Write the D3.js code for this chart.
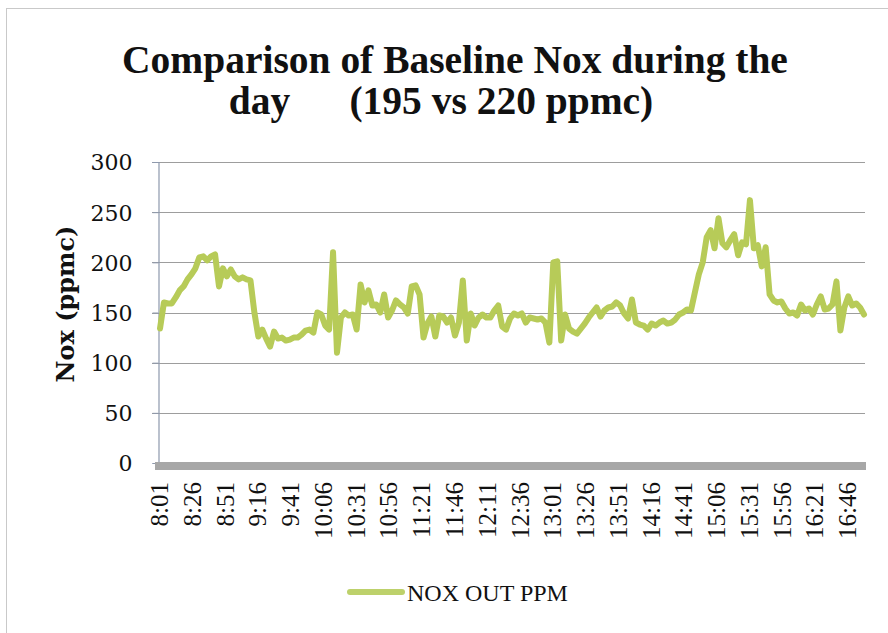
<!DOCTYPE html>
<html>
<head>
<meta charset="utf-8">
<script src="https://cdn.jsdelivr.net/npm/d3@7"></script>
<style>
	body { margin: 0; background: #fff; }
	svg { display: block; }
	.title { font-family: 'Liberation Serif', serif; font-weight: bold; fill: #111; }
	.axis-title { font-family: 'DejaVu Serif', serif; font-weight: bold; fill: #111; }
	.tick-text { font-family: 'DejaVu Serif', serif; fill: #111; }
	.x-text { font-family: 'Liberation Serif', serif; fill: #111; }
</style>
</head>
<body>
<div id="chart"></div>
<script>

// category labels shown on the x axis (one every 25 readings)
var tickLabels = ['8:01', '8:26', '8:51', '9:16', '9:41', '10:06', '10:31', '10:56', '11:21', '11:46',
	'12:11', '12:36', '13:01', '13:26', '13:51', '14:16', '14:41', '15:06', '15:31', '15:56', '16:21', '16:46'];
var labelEvery = 25;

// NOX OUT PPM, one value every 3 minutes from 8:01
var readingStep = 3;
var noxValues = [
	134, 160, 159, 159, 165, 172, 176, 183, 188, 194,
	205, 206, 202, 206, 208, 176, 194, 186, 193, 186,
	183, 185, 183, 182, 150, 126, 133, 124, 116, 131,
	124, 125, 122, 123, 125, 125, 128, 132, 133, 130,
	150, 148, 137, 133, 210, 110, 145, 150, 147, 148,
	133, 178, 160, 172, 157, 158, 150, 168, 145, 152,
	162, 158, 155, 149, 176, 177, 168, 125, 139, 146,
	126, 147, 146, 140, 145, 127, 140, 182, 122, 149,
	137, 145, 148, 145, 145, 152, 157, 136, 133, 144,
	149, 147, 149, 140, 145, 144, 143, 144, 140, 120,
	200, 201, 122, 148, 134, 131, 129, 134, 139, 145,
	150, 155, 146, 152, 155, 156, 160, 157, 149, 144,
	163, 140, 138, 137, 133, 139, 137, 140, 142, 139,
	140, 143, 148, 150, 153, 152, 170, 188, 200, 225,
	232, 214, 244, 219, 215, 222, 228, 207, 220, 218,
	262, 214, 217, 196, 215, 168, 162, 160, 161, 154,
	149, 150, 147, 158, 152, 154, 148, 158, 166, 153,
	154, 158, 181, 132, 155, 166, 157, 159, 155, 148
];
var seriesName = 'NOX OUT PPM';
var yTicks = [0, 50, 100, 150, 200, 250, 300];

var dim = { w: 888, h: 633 };
var plot = { left: 158, right: 865, top: 162, bottom: 463 };
var lineColor = '#b7cb58';

var svg = d3.select('#chart').append('svg')
	.attr('width', dim.w)
	.attr('height', dim.h);

// chart frame
svg.append('rect')
	.attr('x', 6.5).attr('y', 8.5)
	.attr('width', dim.w + 10).attr('height', dim.h + 10)
	.attr('fill', 'none')
	.attr('stroke', '#c9c9c9');

var x = d3.scaleLinear()
	.domain([0, (noxValues.length - 1) * readingStep])
	.range([160, 864]);
var y = d3.scaleLinear()
	.domain([0, 300])
	.range([plot.bottom, plot.top]);

// title, sized to the width of the first line
var title1 = svg.append('text')
	.attr('class', 'title')
	.attr('x', 455).attr('y', 73)
	.attr('text-anchor', 'middle')
	.style('font-size', '30px')
	.text('Comparison of Baseline Nox during the');
var fs = 30 * 666 / title1.node().getComputedTextLength();
title1.style('font-size', fs + 'px');
svg.append('text')
	.attr('class', 'title')
	.attr('x', 441).attr('y', 114)
	.attr('text-anchor', 'middle')
	.style('font-size', fs + 'px')
	.style('white-space', 'pre')
	.text('day      (195 vs 220 ppmc)');

// gridlines + left tick marks
svg.append('g').selectAll('line')
	.data(yTicks.filter(function (d) { return d > 0; }))
	.enter().append('line')
	.attr('x1', 152).attr('x2', plot.right)
	.attr('y1', function (d) { return Math.round(y(d)) + 0.5; })
	.attr('y2', function (d) { return Math.round(y(d)) + 0.5; })
	.attr('stroke', '#9d9d9d')
	.attr('stroke-width', 1.2);

// y axis
var yAxis = d3.axisLeft(y).tickValues(yTicks).tickSize(6).tickPadding(20);
var gy = svg.append('g')
	.attr('transform', 'translate(' + (plot.left + 0.5) + ',0)')
	.call(yAxis);
gy.select('.domain').attr('stroke', '#8e99ad').attr('stroke-width', 1.2);
gy.selectAll('.tick line').attr('stroke', '#8e99ad');
gy.selectAll('.tick text')
	.attr('class', 'tick-text')
	.style('font-size', '22px')
	.attr('dy', '0.36em');
gy.attr('font-family', null).attr('font-size', null);

svg.append('text')
	.attr('class', 'axis-title')
	.attr('transform', 'translate(74,304) rotate(-90)')
	.attr('text-anchor', 'middle')
	.style('font-size', '24px')
	.text('Nox (ppmc)');

// x axis floor
svg.append('rect')
	.attr('x', 155).attr('y', plot.bottom - 1)
	.attr('width', plot.right - 155 + 1).attr('height', 8)
	.attr('fill', '#a7a7a7');

var gx = svg.append('g')
	.attr('transform', 'translate(0,' + (plot.bottom + 7) + ')');
gx.selectAll('text')
	.data(tickLabels)
	.enter().append('text')
	.attr('class', 'x-text')
	.style('font-size', '25px')
	.attr('text-anchor', 'end')
	.attr('transform', function (d, i) {
		return 'translate(' + (x(i * labelEvery) + 8) + ',12) rotate(-90)';
	})
	.text(function (d) { return d; });

// the series
var line = d3.line()
	.x(function (d, i) { return x(i * readingStep); })
	.y(function (d) { return y(d); });
svg.append('path')
	.datum(noxValues)
	.attr('d', line)
	.attr('fill', 'none')
	.attr('stroke', lineColor)
	.attr('stroke-width', 6)
	.attr('stroke-linejoin', 'round')
	.attr('stroke-linecap', 'round');

// legend
var legend = svg.append('g').attr('transform', 'translate(348,592)');
legend.append('line')
	.attr('x1', 2).attr('x2', 54)
	.attr('stroke', '#bdd16b')
	.attr('stroke-width', 6)
	.attr('stroke-linecap', 'round');
legend.append('text')
	.attr('x', 59).attr('y', 9)
	.style('font-family', "'Liberation Serif', serif")
	.style('font-size', '24px')
	.attr('fill', '#111')
	.text(seriesName);

</script>
</body>
</html>
